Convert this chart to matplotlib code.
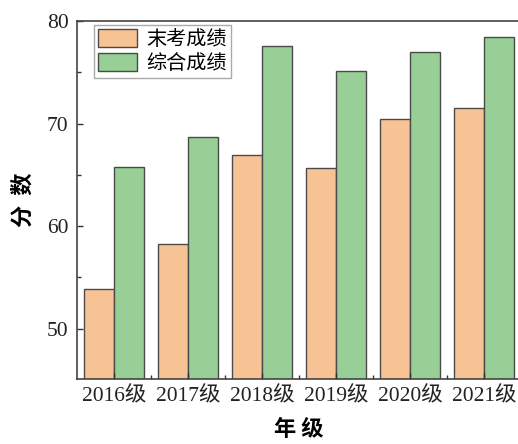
import numpy as np
import matplotlib
matplotlib.use("Agg")
from matplotlib import pyplot as plt
from matplotlib.ticker import MultipleLocator, FixedLocator

plt.rcParams["font.family"] = ["Liberation Serif", "Noto Sans CJK SC", "DejaVu Sans"]

grades = ["2016级", "2017级", "2018级", "2019级", "2020级", "2021级"]
final_scores = [53.9, 58.3, 66.9, 65.7, 70.4, 71.5]
overall_scores = [65.8, 68.7, 77.6, 75.1, 77.0, 78.4]
series_names = ["末考成绩", "综合成绩"]

fig = plt.figure(figsize=(5.18, 4.44), dpi=100)
# 右侧边框在原图中被裁掉了
ax = fig.add_axes([77 / 518, 1 - 379 / 444, 444 / 518, 358 / 444])

x = np.arange(len(grades))
w = 0.4
ax.bar(x - w / 2, final_scores, w, color="#f8c394", edgecolor="#4a4a4a",
       linewidth=1.0, label=series_names[0])
ax.bar(x + w / 2, overall_scores, w, color="#97cf96", edgecolor="#4a4a4a",
       linewidth=1.0, label=series_names[1])

ax.set_xlim(-0.5, 5.5)
ax.set_ylim(45.1, 80)
ax.yaxis.set_major_locator(MultipleLocator(10))
ax.yaxis.set_minor_locator(MultipleLocator(5))
ax.set_xticks(x)
ax.set_xticklabels(grades)
ax.xaxis.set_minor_locator(FixedLocator(x[:-1] + 0.5))
ax.tick_params(which="both", direction="in", color="#333333", labelsize=15.5, labelcolor="#222222")
ax.tick_params(which="major", length=4, width=1.0)
ax.tick_params(which="minor", length=3, width=1.0)
ax.tick_params(axis="y", pad=6)
ax.tick_params(axis="x", pad=6)
for s in ax.spines.values():
    s.set_color("#444444")
    s.set_linewidth(1.2)

ax.set_ylabel("分  数", fontsize=16, family=["Noto Sans CJK SC"], fontweight="bold", labelpad=9)
ax.set_xlabel("年 级", fontsize=16, family=["Noto Sans CJK SC"], fontweight="bold", labelpad=8)

ax.legend(loc="upper left", bbox_to_anchor=(0.03, 1.0), prop={"family": "Noto Sans CJK SC", "size": 14.5},
          frameon=True, fancybox=False, edgecolor="#aaaaaa", framealpha=1,
          handlelength=1.9, handleheight=1.0, handletextpad=0.5,
          borderpad=0.2, labelspacing=0.15, borderaxespad=0.2)

fig.savefig("out.png", dpi=100)
